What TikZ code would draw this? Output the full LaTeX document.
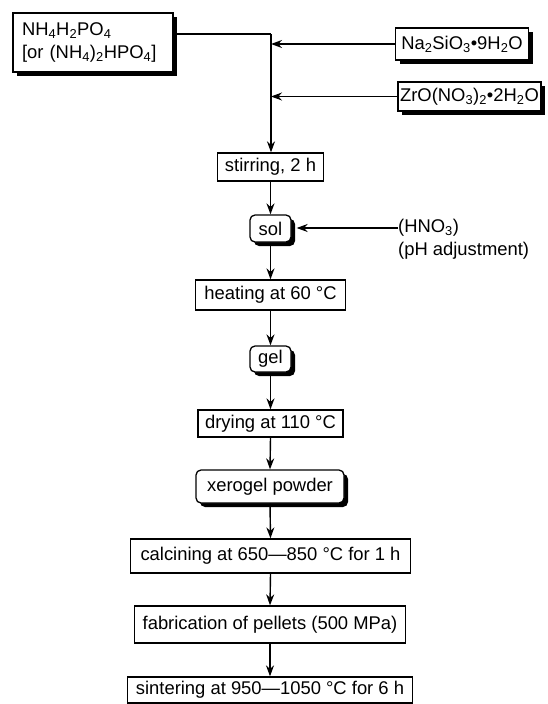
\documentclass[tikz,border=0pt]{standalone}
\usepackage{fontspec}
\setmainfont{Liberation Sans}
\usetikzlibrary{shadows,arrows.meta}
\newcommand\sbs[1]{\textsubscript{#1}}
\tikzset{
  base/.style={draw=black, line width=1.3pt, fill=white, inner sep=0pt, font=\fontsize{18.4}{23}\selectfont, anchor=center},
  plain/.style={base},
  shad/.style={base, drop shadow={shadow xshift=4pt, shadow yshift=-4pt, fill=black, opacity=1}},
  rshad/.style={shad, rounded corners=5pt},
  conn/.style={line width=1.4pt, -{Stealth[length=11pt,width=8pt]}},
  line/.style={line width=1.4pt},
  lbl/.style={font=\fontsize{18.4}{23}\selectfont, inner sep=0pt, anchor=west}
}
\begin{document}
\begin{tikzpicture}[x=1pt,y=-1pt]
\useasboundingbox (0,0) rectangle (547,704);
\node[shad, minimum width=160pt, minimum height=59pt, text width=142pt, align=left] (nh4) at (93,42.5) {NH\sbs{4}H\sbs{2}PO\sbs{4}\\{}[or (NH\sbs{4})\sbs{2}HPO\sbs{4}]};
\node[shad, minimum width=133pt, minimum height=32pt] (na) at (462,44) {Na\sbs{2}SiO\sbs{3}•9H\sbs{2}O};
\node[shad, minimum width=143pt, minimum height=29pt] (zr) at (469.5,96.5) {ZrO(NO\sbs{3})\sbs{2}•2H\sbs{2}O};
\node[plain, minimum width=106pt, minimum height=28pt] (stir) at (270.5,167) {stirring, 2 h};
\node[rshad, minimum width=41pt, minimum height=27pt] (sol) at (270.5,228.5) {sol};
\node[lbl] (hno3) at (398,228) {(HNO\sbs{3})};
\node[lbl] (ph) at (398,251) {(pH adjustment)};
\node[plain, minimum width=150pt, minimum height=30pt] (heat) at (270.5,295) {heating at 60 °C};
\node[rshad, minimum width=41pt, minimum height=26pt] (gel) at (270.5,359) {gel};
\node[plain, minimum width=145pt, minimum height=27pt] (dry) at (270.5,423.5) {drying at 110 °C};
\node[rshad, minimum width=148pt, minimum height=33pt] (xero) at (270,486.5) {xerogel powder};
\node[plain, minimum width=280pt, minimum height=34pt] (calc) at (270.5,556) {calcining at 650—850 °C for 1 h};
\node[plain, minimum width=271pt, minimum height=37pt] (fab) at (270,624.5) {fabrication of pellets (500 MPa)};
\node[plain, minimum width=285pt, minimum height=26pt] (sint) at (270,690) {sintering at 950—1050 °C for 6 h};
\coordinate (top) at (271,34);
\draw[line] (nh4.east |- top) -- (top);
\draw[conn] (top) -- (top |- stir.north);
\draw[conn] (na.west) -- (na.west -| top);
\draw[conn] (zr.west) -- (zr.west -| top);
\draw[conn] (stir.south) -- (sol.north);
\draw[conn, shorten >=5pt] (hno3.west) -- (sol.east |- hno3.west);
\draw[conn] (sol.south) -- (heat.north);
\draw[conn] (heat.south) -- (gel.north);
\draw[conn] (gel.south) -- (dry.north);
\draw[conn] (dry.south) -- (xero.north);
\draw[conn] (xero.south) -- (calc.north);
\draw[conn] (calc.south) -- (fab.north);
\draw[conn] (fab.south) -- (sint.north);
\end{tikzpicture}
\end{document}
